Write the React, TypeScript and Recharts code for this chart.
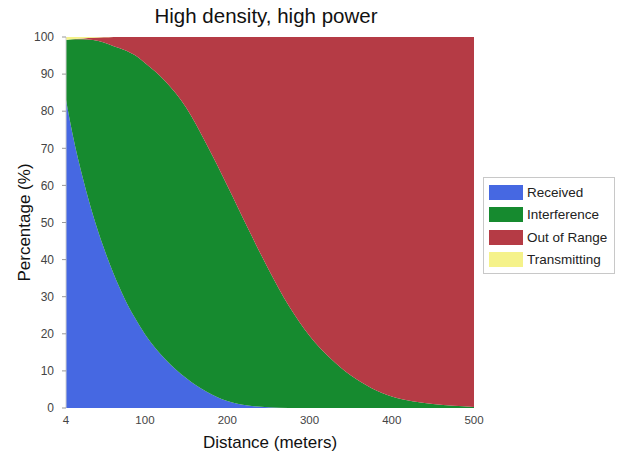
import React from "react";
import { AreaChart, Area, XAxis, YAxis, Legend, Label } from "recharts";

const distance = [4, 12, 25, 37, 50, 62, 75, 87, 100, 125, 150, 175, 200, 225, 250, 275, 300, 325, 350, 375, 400, 425, 450, 475, 500];
const received = [83, 73.8, 61.5, 51.9, 43.1, 36.1, 29.6, 24.6, 19.9, 13.1, 8.1, 4.4, 1.9, 0.7, 0.2, 0, 0, 0, 0, 0, 0, 0, 0, 0, 0];
const interference = [16.2, 25.6, 37.9, 47.3, 55.4, 61.4, 66.9, 70.6, 73.1, 74.9, 72.9, 66.6, 58.1, 47.8, 37.3, 27.5, 19.5, 13.5, 8.8, 5.4, 3.1, 1.8, 1.1, 0.6, 0.3];
const outOfRange = [0, 0.0, 0.2, 0.6, 1.4, 2.5, 3.5, 4.8, 7, 12, 19, 29, 40, 51.5, 62.5, 72.5, 80.5, 86.5, 91.2, 94.6, 96.9, 98.2, 98.9, 99.4, 99.7];
const transmitting = [0.8, 0.6, 0.4, 0.2, 0.1, 0, 0, 0, 0, 0, 0, 0, 0, 0, 0, 0, 0, 0, 0, 0, 0, 0, 0, 0, 0];

const seriesNames = ["Received", "Interference", "Out of Range", "Transmitting"];
const xTicks = [4, 100, 200, 300, 400, 500];
const yTicks = [0, 10, 20, 30, 40, 50, 60, 70, 80, 90, 100];

const data = distance.map((d, i) => ({
  d,
  received: received[i],
  interference: interference[i],
  outOfRange: outOfRange[i],
  transmitting: transmitting[i],
}));

const FONT = "'Liberation Sans', Arial, sans-serif";

const LegendBox = (props: any) => {
  const payload = [...(props.payload || [])].sort(
    (a: any, b: any) => seriesNames.indexOf(a.value) - seriesNames.indexOf(b.value)
  );
  return (
    <div
      style={{
        border: "1px solid #c8c8c8",
        background: "#fff",
        padding: "3px 4px 2px 5px",
        fontFamily: FONT,
        fontSize: 13.5,
        color: "#222",
        width: 132,
        boxSizing: "border-box",
        whiteSpace: "nowrap",
      }}
    >
      {payload.map((p: any) => (
        <div key={p.value} style={{ display: "flex", alignItems: "center", height: 22.5 }}>
          <div style={{ width: 34, height: 15, background: p.color, marginRight: 4, flex: "none" }} />
          <span>{p.value}</span>
        </div>
      ))}
    </div>
  );
};

export default function App() {
  return (
    <div style={{ position: "absolute", left: 0, top: 0, width: 623, height: 457, background: "#fff" }}>
      <div
        style={{
          position: "absolute",
          left: 62,
          width: 408,
          top: 4,
          textAlign: "center",
          fontFamily: FONT,
          fontSize: 20.5,
          color: "#111",
          whiteSpace: "nowrap",
        }}
      >
        High density, high power
      </div>
      <AreaChart
        width={623}
        height={457}
        data={data}
        margin={{ top: 37, right: 17, left: 0, bottom: 0 }}
      >
        <XAxis
          dataKey="d"
          type="number"
          domain={[4, 500]}
          ticks={xTicks}
          allowDataOverflow
          height={49}
          axisLine={false}
          tickLine={false}
          tickSize={6}
          tick={{ fill: "#444", fontSize: 11.5, fontFamily: FONT }}
        >
          <Label
            value="Distance (meters)"
            position="insideBottom"
            offset={9}
            style={{ fill: "#111", fontSize: 17, fontFamily: FONT }}
          />
        </XAxis>
        <YAxis
          type="number"
          domain={[0, 100]}
          ticks={yTicks}
          width={66}
          axisLine={{ stroke: "#d0d0d0" }}
          tickLine={{ stroke: "#999" }}
          tickSize={4}
          tickMargin={8}
          tick={{ fill: "#444", fontSize: 12, fontFamily: FONT }}
        >
          <Label
            content={(p: any) => {
              const vb = p.viewBox || {};
              const cx = vb.x + 24;
              const cy = vb.y + vb.height / 2;
              return (
                <text
                  x={cx}
                  y={cy}
                  transform={`rotate(-90, ${cx}, ${cy})`}
                  textAnchor="middle"
                  dominantBaseline="central"
                  style={{ fill: "#111", fontSize: 17, fontFamily: FONT }}
                >
                  Percentage (%)
                </text>
              );
            }}
          />
        </YAxis>
        <Legend
          layout="vertical"
          align="right"
          verticalAlign="middle"
          content={<LegendBox />}
          wrapperStyle={{ position: "absolute", left: 483, top: 177, width: 132 }}
        />
        <Area type="monotone" dataKey="received" name="Received" stackId="1" stroke="none" fill="#4668e2" fillOpacity={1} isAnimationActive={false} />
        <Area type="monotone" dataKey="interference" name="Interference" stackId="1" stroke="none" fill="#168a2f" fillOpacity={1} isAnimationActive={false} />
        <Area type="monotone" dataKey="outOfRange" name="Out of Range" stackId="1" stroke="none" fill="#b53b45" fillOpacity={1} isAnimationActive={false} />
        <Area type="monotone" dataKey="transmitting" name="Transmitting" stackId="1" stroke="none" fill="#f5f28a" fillOpacity={1} isAnimationActive={false} />
      </AreaChart>
    </div>
  );
}
